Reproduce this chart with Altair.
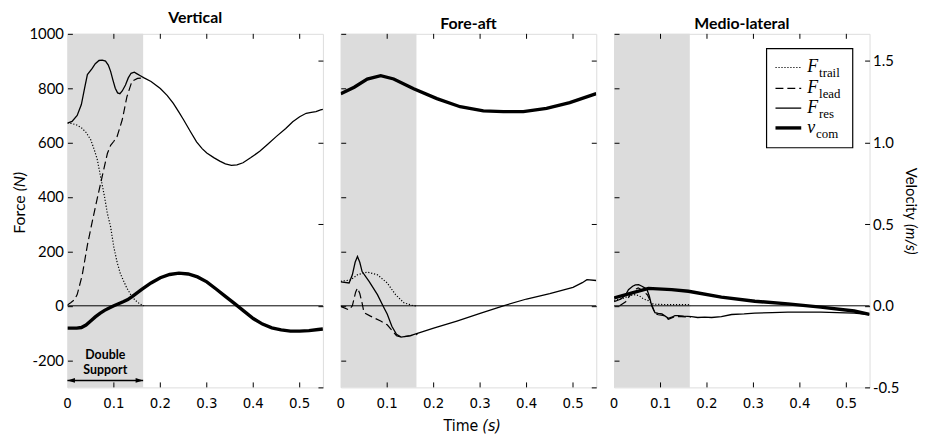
import altair as alt
import pandas as pd

W, H = 258, 357
F_DOMAIN = [-300, 1000]
V_DOMAIN = [-0.5, 1000 / 600]
T_DOMAIN = [0, 0.55]
DS_END = 0.163

panel_titles = ["Vertical", "Fore-aft", "Medio-lateral"]
time_ticks = [0, 0.1, 0.2, 0.3, 0.4, 0.5]
time_labels = ["0", "0.1", "0.2", "0.3", "0.4", "0.5"]
force_ticks = [-200, 0, 200, 400, 600, 800, 1000]
vel_ticks = [-0.5, 0.0, 0.5, 1.0, 1.5]

# ---------------- Vertical ----------------
vert_trail_t = [0, 0.01, 0.02, 0.03, 0.04, 0.05, 0.057, 0.064, 0.072, 0.08, 0.086, 0.093, 0.1, 0.107,
                0.114, 0.12, 0.128, 0.136, 0.145, 0.155, 0.165]
vert_trail_F = [672, 670, 665, 655, 638, 611, 578, 540, 470, 400, 340, 290, 215, 160,
                118, 95, 65, 42, 22, 8, 0]
vert_lead_t = [0, 0.007, 0.015, 0.021, 0.032, 0.043, 0.054, 0.064, 0.075, 0.086, 0.093, 0.1, 0.107,
               0.118, 0.128, 0.139, 0.151, 0.165]
vert_lead_F = [3, 11, 22, 41, 114, 223, 314, 393, 477, 560, 590, 605, 623,
               684, 768, 826, 836, 838]
vert_res_t = [0, 0.01, 0.021, 0.03, 0.037, 0.043, 0.053, 0.06, 0.068, 0.075, 0.082, 0.088, 0.093, 0.098,
              0.103, 0.108, 0.113, 0.118, 0.125, 0.131, 0.137, 0.144, 0.15, 0.157, 0.165, 0.18, 0.2,
              0.215, 0.228, 0.24, 0.25, 0.265, 0.278, 0.29, 0.3, 0.315, 0.328, 0.34, 0.353, 0.365,
              0.378, 0.395, 0.414, 0.43, 0.45, 0.47, 0.485, 0.5, 0.514, 0.525, 0.535, 0.545, 0.55]
vert_res_F = [672, 678, 700, 740, 800, 850, 872, 890, 902, 903, 900, 885, 862, 830,
              800, 783, 780, 790, 812, 838, 855, 859, 853, 846, 838, 825, 799,
              773, 744, 712, 684, 640, 603, 578, 562, 545, 532, 522, 516, 518,
              526, 545, 568, 592, 623, 652, 677, 695, 708, 711, 714, 720, 722]
vert_com_t = [0, 0.02, 0.03, 0.04, 0.05, 0.06, 0.07, 0.08, 0.09, 0.1, 0.11, 0.12, 0.13, 0.14, 0.16,
              0.18, 0.2, 0.22, 0.24, 0.26, 0.28, 0.3, 0.32, 0.34, 0.36, 0.38, 0.4, 0.42, 0.44, 0.46,
              0.48, 0.5, 0.52, 0.54, 0.55]
vert_com_v = [-0.137, -0.137, -0.133, -0.118, -0.093, -0.068, -0.046, -0.028, -0.013, 0.0, 0.013,
              0.025, 0.038, 0.058, 0.1, 0.14, 0.172, 0.192, 0.2, 0.195, 0.177, 0.147, 0.103, 0.058,
              0.013, -0.033, -0.078, -0.112, -0.135, -0.148, -0.155, -0.155, -0.152, -0.145, -0.142]

# ---------------- Fore-aft ----------------
fa_trail_t = [0, 0.021, 0.036, 0.057, 0.079, 0.1, 0.118, 0.136, 0.157, 0.165]
fa_trail_F = [90, 95, 114, 124, 114, 84, 41, 11, 0, 0]
fa_lead_t = [0, 0.018, 0.025, 0.032, 0.036, 0.041, 0.046, 0.05, 0.064, 0.086, 0.1, 0.11, 0.12,
             0.13, 0.15, 0.165]
fa_lead_F = [-2, -15, 0, 50, 65, 45, 10, -25, -38, -56, -70, -90, -110, -115, -110, -105]
fa_res_t = [0, 0.018, 0.025, 0.031, 0.036, 0.041, 0.046, 0.061, 0.079, 0.093, 0.1, 0.11, 0.12, 0.13,
            0.15, 0.2, 0.25, 0.3, 0.35, 0.4, 0.45, 0.5, 0.52, 0.53, 0.55]
fa_res_F = [88, 84, 114, 160, 181, 160, 126, 90, 41, -7, -30, -75, -105, -115,
            -110, -82, -56, -28, 0, 25, 45, 68, 85, 96, 93]
fa_com_t = [0, 0.029, 0.057, 0.086, 0.114, 0.157, 0.207, 0.257, 0.307, 0.35, 0.393, 0.443, 0.493, 0.55]
fa_com_v = [1.30, 1.34, 1.39, 1.41, 1.39, 1.33, 1.27, 1.22, 1.195, 1.19, 1.19, 1.21, 1.245, 1.30]

# ---------------- Medio-lateral ----------------
ml_trail_t = [0, 0.02, 0.035, 0.046, 0.055, 0.06, 0.068, 0.074, 0.08, 0.085, 0.1, 0.13, 0.16, 0.165]
ml_trail_F = [20, 28, 38, 41, 36, 29, 22, 19, 10, 6, 5, 4, 4, 0]
ml_lead_t = [0.012, 0.025, 0.035, 0.045, 0.052, 0.058, 0.065, 0.072, 0.08, 0.088, 0.095, 0.105,
             0.117, 0.13, 0.145, 0.165]
ml_lead_F = [0, 15, 40, 60, 66, 60, 50, 40, 10, -28, -33, -35, -50, -40, -40, -42]
ml_res_t = [0, 0.015, 0.025, 0.031, 0.04, 0.046, 0.053, 0.06, 0.066, 0.071, 0.076, 0.081, 0.088,
            0.095, 0.103, 0.11, 0.117, 0.124, 0.131, 0.138, 0.15, 0.167, 0.18, 0.195, 0.21, 0.231,
            0.253, 0.28, 0.303, 0.34, 0.374, 0.41, 0.445, 0.48, 0.517, 0.55]
ml_res_F = [15, 25, 40, 59, 72, 77, 78, 72, 66, 59, 35, 0, -25, -28, -30, -38, -46, -42, -36, -36,
            -38, -40, -43, -42, -43, -40, -32, -30, -27, -25, -23, -23, -23, -25, -27, -32]
ml_com_t = [0, 0.039, 0.074, 0.124, 0.16, 0.231, 0.303, 0.374, 0.445, 0.517, 0.55]
ml_com_v = [0.048, 0.079, 0.107, 0.099, 0.089, 0.053, 0.028, 0.012, -0.008, -0.032, -0.053]

legend_labels = [("F", "trail"), ("F", "lead"), ("F", "res"), ("v", "com")]

SANS = "Lato, Open Sans, sans-serif"
NARROW = "Liberation Sans Narrow, DejaVu Sans Condensed, sans-serif"
SERIF = "Liberation Serif, DejaVu Serif, serif"

TRAIL_DASH = [1.2, 1.8]
LEAD_DASH = [8, 4]


def X(field):
    return alt.X(f"{field}:Q", scale=alt.Scale(domain=T_DOMAIN, nice=False, zero=False), axis=None)


def YF(axis=None):
    return alt.Y("F:Q", scale=alt.Scale(domain=F_DOMAIN, nice=False, zero=False), axis=axis)


def YV(axis=None):
    return alt.Y("v:Q", scale=alt.Scale(domain=V_DOMAIN, nice=False, zero=False), axis=axis)


one = pd.DataFrame({"k": [0]})


def line(t, vals, field, dash=None, width=1.2):
    df = pd.DataFrame({"t": t, field: vals})
    kw = dict(color="black", strokeWidth=width, clip=True)
    if dash:
        kw["strokeDash"] = dash
    y = YF() if field == "F" else YV()
    return alt.Chart(df).mark_line(**kw).encode(x=X("t"), y=y)


def text(s, x, y, size, font, style="normal", weight="normal", align="center", angle=0, dx=0):
    kw = dict(fontSize=size, font=font, fontStyle=style, fontWeight=weight, align=align,
              baseline="middle", color="black", dx=dx)
    if angle:
        kw["angle"] = angle
    return alt.Chart(one).mark_text(**kw).encode(x=alt.value(x), y=alt.value(y), text=alt.value(s))


def panel(i, trail, lead, res, com):
    layers = []
    shade = alt.Chart(pd.DataFrame({"t0": [0.0], "t1": [DS_END]})).mark_rect(
        color="#dcdcdc").encode(x=X("t0"), x2="t1", y=alt.value(0), y2=alt.value(H))
    layers.append(shade)
    # time ticks (inward, top and bottom) and labels
    tdf = pd.DataFrame({"t": time_ticks, "lab": time_labels})
    layers.append(alt.Chart(tdf[1:]).mark_rule(color="black", strokeWidth=1).encode(
        x=X("t"), y=alt.value(0), y2=alt.value(5)))
    layers.append(alt.Chart(tdf[1:]).mark_rule(color="black", strokeWidth=1).encode(
        x=X("t"), y=alt.value(H - 5), y2=alt.value(H)))
    layers.append(alt.Chart(tdf).mark_text(font=NARROW, fontSize=15, color="black",
                                           baseline="middle").encode(
        x=X("t"), y=alt.value(H + 16), text="lab:N"))
    # zero line with left force axis
    left_axis = alt.Axis(orient="left", offset=-5, tickSize=5, domain=False, grid=False,
                         values=force_ticks, labels=(i == 0),
                         labelExpr="datum.value < 0 ? '-' + format(-datum.value, 'd') : format(datum.value, 'd')",
                         labelFont=SANS, labelFontSize=15, labelColor="black", labelPadding=4,
                         tickColor="black", tickWidth=1, title=None, zindex=1)
    zero = alt.Chart(pd.DataFrame({"F": [0]})).mark_rule(color="black", strokeWidth=1).encode(
        y=YF(left_axis))
    layers.append(zero)
    layers.append(line(trail[0], trail[1], "F", TRAIL_DASH, 1.2))
    layers.append(line(lead[0], lead[1], "F", LEAD_DASH, 1.2))
    layers.append(line(res[0], res[1], "F", None, 1.3))
    right_axis = alt.Axis(orient="right", offset=-5, tickSize=5, domain=False, grid=False,
                          values=vel_ticks, labels=(i == 2),
                          labelExpr="datum.value < 0 ? '-' + format(-datum.value, '.1f') : format(datum.value, '.1f')",
                          labelFont=SANS, labelFontSize=15, labelColor="black", labelPadding=3,
                          tickColor="black", tickWidth=1, title=None, zindex=1)
    comdf = pd.DataFrame({"t": com[0], "v": com[1]})
    layers.append(alt.Chart(comdf).mark_line(color="black", strokeWidth=3.4, clip=True).encode(
        x=X("t"), y=YV(right_axis)))

    if i == 0:
        # Double support annotation
        mid = pd.DataFrame({"t": [DS_END / 2]})
        layers.append(alt.Chart(mid).mark_text(fontSize=12.5, font=SANS, fontWeight="bold", color="black",
                                               baseline="middle").encode(
            x=X("t"), y=alt.value(324), text=alt.value("Double")))
        layers.append(alt.Chart(mid).mark_text(fontSize=12.5, font=SANS, fontWeight="bold", color="black",
                                               baseline="middle").encode(
            x=X("t"), y=alt.value(339), text=alt.value("Support")))
        arr = pd.DataFrame({"t0": [0.0], "t1": [DS_END]})
        layers.append(alt.Chart(arr).mark_rule(color="black", strokeWidth=1.5).encode(
            x=X("t0"), x2="t1", y=alt.value(350)))
        layers.append(alt.Chart(pd.DataFrame({"t": [0.0]})).mark_point(
            shape="M 0 0 L 1 -0.32 L 1 0.32 Z", filled=True, color="black", size=230, opacity=1,
            strokeWidth=0).encode(x=X("t"), y=alt.value(350)))
        layers.append(alt.Chart(pd.DataFrame({"t": [DS_END]})).mark_point(
            shape="M 0 0 L -1 -0.32 L -1 0.32 Z", filled=True, color="black", size=230, opacity=1,
            strokeWidth=0).encode(x=X("t"), y=alt.value(350)))
        # Force (N) axis title
        layers.append(text("Force", -48, 161, 16, SANS, align="right", angle=270, dx=-2))
        layers.append(text("(N)", -48, 161, 16, SANS, style="italic", align="left", angle=270, dx=2))
    if i == 1:
        layers.append(text("Time", 141, 396, 16, NARROW, align="right", dx=-2))
        layers.append(text("(s)", 141, 396, 16, NARROW, style="italic", align="left", dx=2))
    if i == 2:
        layers.append(text("Velocity", 300, 190, 15, SANS, align="right", angle=90, dx=-2))
        layers.append(text("(m/s)", 300, 190, 15, SANS, style="italic", align="left", angle=90, dx=2))
        # legend box
        layers.append(alt.Chart(one).mark_rect(fill="white", stroke="black", strokeWidth=1.2).encode(
            x=alt.value(154), x2=alt.value(241), y=alt.value(15), y2=alt.value(115)))
        rows = [34, 55, 75, 95]
        styles = [(TRAIL_DASH, 1.2), (LEAD_DASH, 1.2), (None, 1.3), (None, 3.4)]
        for (sym, sub), ry, (dash, wdt) in zip(legend_labels, rows, styles):
            kw = dict(color="black", strokeWidth=wdt)
            if dash:
                kw["strokeDash"] = dash
            layers.append(alt.Chart(one).mark_rule(**kw).encode(
                x=alt.value(163), x2=alt.value(189), y=alt.value(ry)))
            layers.append(alt.Chart(one).mark_text(fontSize=18, font=SERIF, fontStyle="italic",
                                                   align="left", baseline="alphabetic", color="black").encode(
                x=alt.value(195), y=alt.value(ry + 5), text=alt.value(sym)))
            sx = 207 if sym == "F" else 204
            layers.append(alt.Chart(one).mark_text(fontSize=13, font=SERIF, align="left",
                                                   baseline="alphabetic", color="black").encode(
                x=alt.value(sx), y=alt.value(ry + 10), text=alt.value(sub)))

    return alt.layer(*layers).resolve_scale(y="independent").properties(
        width=W, height=H,
        title=alt.TitleParams(panel_titles[i], fontSize=16, font=SANS, fontWeight="bold",
                              anchor="middle", offset=1, color="black"))


p1 = panel(0, (vert_trail_t, vert_trail_F), (vert_lead_t, vert_lead_F), (vert_res_t, vert_res_F),
           (vert_com_t, vert_com_v))
p2 = panel(1, (fa_trail_t, fa_trail_F), (fa_lead_t, fa_lead_F), (fa_res_t, fa_res_F),
           (fa_com_t, fa_com_v))
p3 = panel(2, (ml_trail_t, ml_trail_F), (ml_lead_t, ml_lead_F), (ml_res_t, ml_res_F),
           (ml_com_t, ml_com_v))

chart = alt.hconcat(p1, p2, p3, spacing=18, bounds="flush").properties(
    padding={"left": 3, "top": -1, "right": 8, "bottom": 0}
).configure_view(stroke="black", strokeWidth=1.3).configure(background="white")

chart.save("out.html", embed_options={"renderer": "svg", "actions": False})
